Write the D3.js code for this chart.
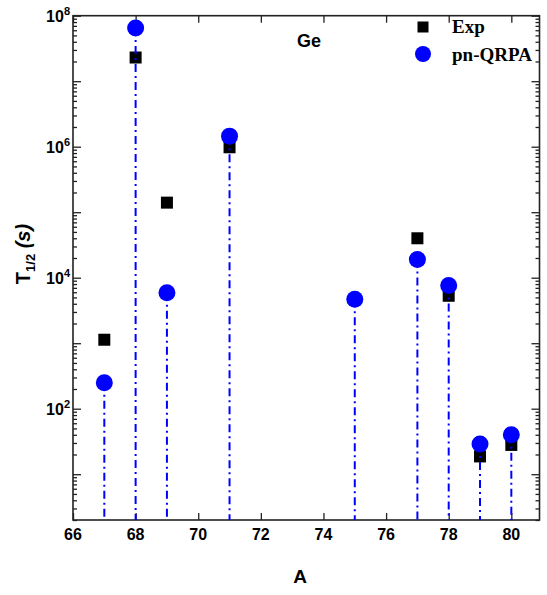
<!DOCTYPE html>
<html>
<head>
<meta charset="utf-8">
<script src="https://cdn.jsdelivr.net/npm/d3@7"></script>
<style>
  html, body { margin: 0; padding: 0; background: #fff; }
  svg { display: block; }
</style>
</head>
<body>
<svg id="chart" width="547" height="595"></svg>
<script>
// Mass numbers and half-lives (s) of Ge isotopes
const massExp = [67, 68, 69, 71, 77, 78, 79, 80];
const halfLifeExp = [1130, 2.3e7, 1.4e5, 9.8e5, 4.0e4, 5.3e3, 18.7, 28];

const massQrpa = [67, 68, 69, 71, 75, 77, 78, 79, 80];
const halfLifeQrpa = [250, 6.5e7, 5.9e3, 1.45e6, 4.7e3, 1.9e4, 7.6e3, 29, 40];

const xTicks = [66, 68, 70, 72, 74, 76, 78, 80];
const yMajorExps = [1, 2, 3, 4, 5, 6, 7, 8];
const yLabelExps = [2, 4, 6, 8];

const svg = d3.select("#chart");
const plotL = 73, plotR = 539.5, plotT = 15.7, plotB = 520;

const x = d3.scaleLinear().domain([66, 80.9]).range([plotL, plotR]);
const y = d3.scaleLog().domain([2, 1e8]).range([plotB, plotT]);

const yMajor = yMajorExps.map(e => Math.pow(10, e));
const yMinor = [];
for (let e = 0; e <= 7; e++) {
  for (let m = 2; m <= 9; m++) {
    const v = m * Math.pow(10, e);
    if (v >= 2 && v < 1e8) yMinor.push(v);
  }
}

function styleAxis(g) {
  g.select(".domain").remove();
  g.selectAll(".tick line").attr("stroke", "#222").attr("stroke-width", 1.3);
  g.selectAll(".tick text").remove();
}

// Left axis: major and minor ticks pointing inward
svg.append("g").attr("transform", `translate(${plotL},0)`)
  .call(d3.axisLeft(y).tickValues(yMajor).tickSize(-8).tickFormat(""))
  .call(styleAxis);
svg.append("g").attr("transform", `translate(${plotL},0)`)
  .call(d3.axisLeft(y).tickValues(yMinor).tickSize(-4).tickFormat(""))
  .call(styleAxis);
// Right axis
svg.append("g").attr("transform", `translate(${plotR},0)`)
  .call(d3.axisRight(y).tickValues(yMajor).tickSize(-8).tickFormat(""))
  .call(styleAxis);
svg.append("g").attr("transform", `translate(${plotR},0)`)
  .call(d3.axisRight(y).tickValues(yMinor).tickSize(-4).tickFormat(""))
  .call(styleAxis);
// Bottom and top axes
svg.append("g").attr("transform", `translate(0,${plotB})`)
  .call(d3.axisBottom(x).tickValues(xTicks).tickSize(-7).tickFormat(""))
  .call(styleAxis);
svg.append("g").attr("transform", `translate(0,${plotT})`)
  .call(d3.axisTop(x).tickValues(xTicks).tickSize(-7).tickFormat(""))
  .call(styleAxis);

// Frame
svg.append("rect")
  .attr("x", plotL).attr("y", plotT)
  .attr("width", plotR - plotL).attr("height", plotB - plotT)
  .attr("fill", "none").attr("stroke", "#222").attr("stroke-width", 1.6);

// X tick labels
svg.append("g").selectAll("text").data(xTicks).join("text")
  .attr("x", d => x(d)).attr("y", plotB + 20)
  .attr("text-anchor", "middle")
  .attr("font-family", "Liberation Sans, Arial, sans-serif")
  .attr("font-weight", "bold").attr("font-size", 16)
  .text(d => d);

// Y tick labels as powers of ten
const yl = svg.append("g").selectAll("text").data(yLabelExps).join("text")
  .attr("x", 70).attr("y", d => y(Math.pow(10, d)) + 6)
  .attr("text-anchor", "end")
  .attr("font-family", "Liberation Sans, Arial, sans-serif")
  .attr("font-weight", "bold").attr("font-size", 16);
yl.append("tspan").text("10");
yl.append("tspan").attr("font-size", 11).attr("dy", -7).text(d => d);

// Experimental points (squares)
const sq = 12;
svg.append("g").selectAll("rect").data(massExp).join("rect")
  .attr("x", (d, i) => x(d) - sq / 2)
  .attr("y", (d, i) => y(halfLifeExp[i]) - sq / 2)
  .attr("width", sq).attr("height", sq)
  .attr("fill", "#000");

// Drop lines from each pn-QRPA value to the bottom axis
svg.append("g").selectAll("line").data(massQrpa).join("line")
  .attr("x1", d => x(d)).attr("x2", d => x(d))
  .attr("y1", (d, i) => y(halfLifeQrpa[i]))
  .attr("y2", plotB)
  .attr("stroke", "#0000ff").attr("stroke-width", 2)
  .attr("stroke-dasharray", "8,4,2,4");

// pn-QRPA points (circles)
svg.append("g").selectAll("circle").data(massQrpa).join("circle")
  .attr("cx", d => x(d))
  .attr("cy", (d, i) => y(halfLifeQrpa[i]))
  .attr("r", 8.5)
  .attr("fill", "#0000ff");

// Element label
svg.append("text")
  .attr("x", 297).attr("y", 47)
  .attr("font-family", "Liberation Sans, Arial, sans-serif")
  .attr("font-weight", "bold").attr("font-size", 18)
  .text("Ge");

// Legend
const lg = svg.append("g");
lg.append("rect").attr("x", 423 - 5.5).attr("y", 27 - 5.5)
  .attr("width", 11).attr("height", 11).attr("fill", "#000");
lg.append("circle").attr("cx", 423).attr("cy", 54).attr("r", 8).attr("fill", "#0000ff");
lg.append("text").attr("x", 452).attr("y", 33)
  .attr("font-family", "Liberation Serif, Times New Roman, serif")
  .attr("font-weight", "bold").attr("font-size", 19).text("Exp");
lg.append("text").attr("x", 452).attr("y", 61)
  .attr("font-family", "Liberation Serif, Times New Roman, serif")
  .attr("font-weight", "bold").attr("font-size", 19).text("pn-QRPA");

// Axis titles
svg.append("text")
  .attr("x", 300).attr("y", 583).attr("text-anchor", "middle")
  .attr("font-family", "Liberation Sans, Arial, sans-serif")
  .attr("font-weight", "bold").attr("font-size", 19)
  .text("A");

const yt = svg.append("text")
  .attr("transform", "translate(30,254) rotate(-90)")
  .attr("text-anchor", "middle")
  .attr("font-family", "Liberation Sans, Arial, sans-serif")
  .attr("font-weight", "bold").attr("font-size", 20);
yt.append("tspan").text("T");
yt.append("tspan").attr("font-size", 13).attr("dy", 5).text("1/2");
yt.append("tspan").attr("dy", -5).attr("font-style", "italic").text(" (s)");
</script>
</body>
</html>
